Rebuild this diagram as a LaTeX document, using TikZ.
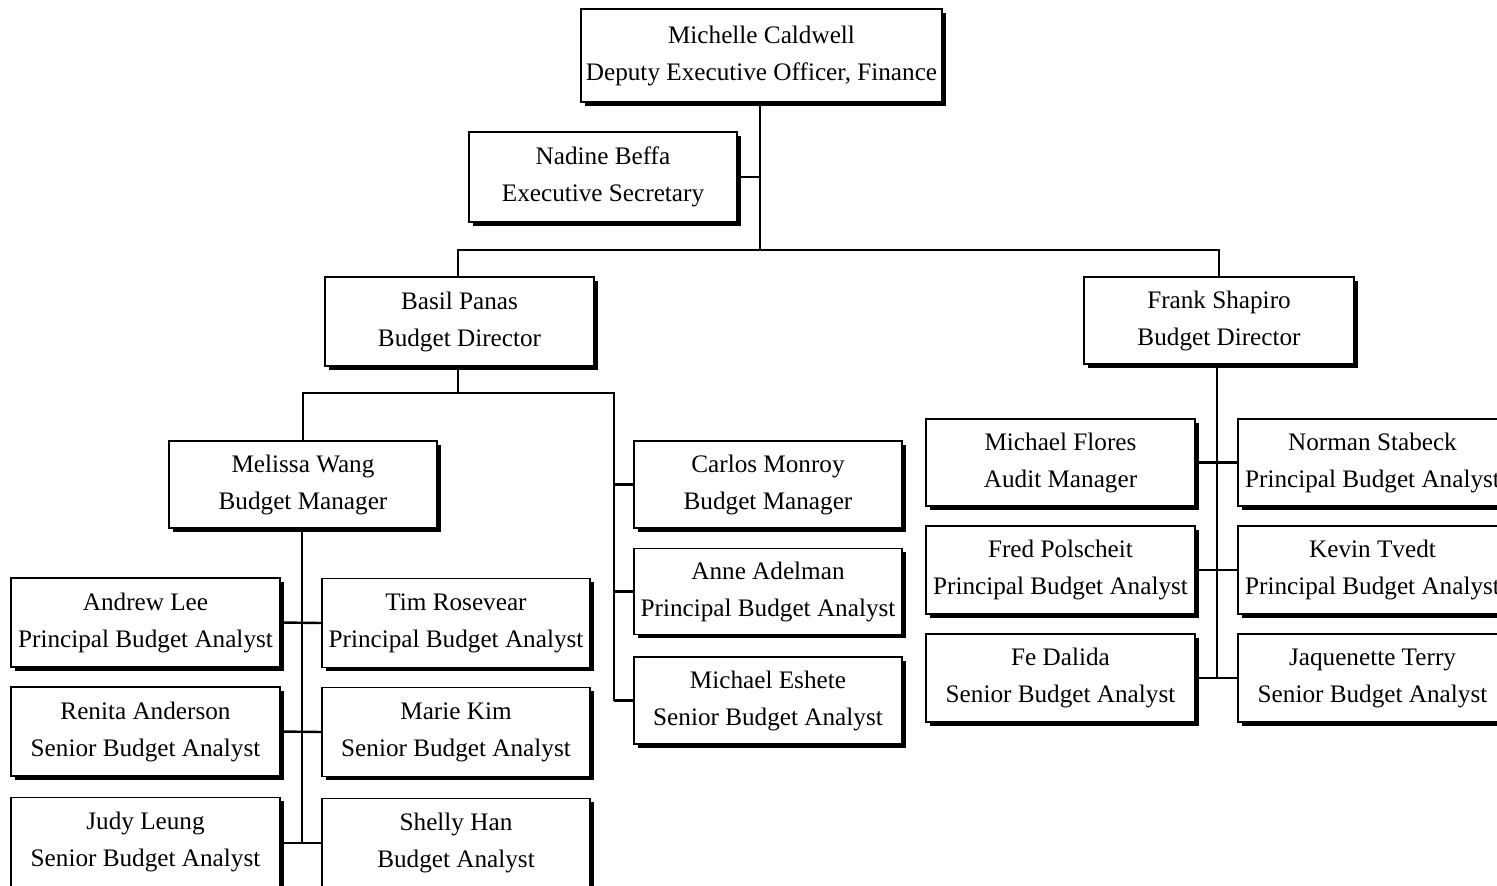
\documentclass[tikz,border=0pt]{standalone}
\usepackage{fontspec}
\setmainfont{Liberation Serif}
\usetikzlibrary{shadows}
\tikzset{
  box/.style={draw=black, line width=0.7pt, fill=white, align=center, inner sep=0pt,
    minimum width=134.5pt, minimum height=44.5pt,
    font=\fontsize{12.6}{18.5}\selectfont,
    execute at begin node={\rule{0pt}{10.8pt}},
    drop shadow={shadow xshift=1.8pt, shadow yshift=-1.8pt, fill=black, opacity=1}},
  conn/.style={draw=black, line width=1.2pt}
}
\begin{document}
\begin{tikzpicture}[x=0.5pt,y=-0.5pt]
\useasboundingbox (0,0) rectangle (1497,886);
% nodes
\node[box, minimum width=180.5pt, minimum height=46.5pt] (cald) at (761.5,55.5) {Michelle Caldwell\\Deputy Executive Officer, Finance};
\node[box, minimum width=134pt, minimum height=45pt] (nad) at (603,177) {Nadine Beffa\\Executive Secretary};
\node[box] (bas) at (459.5,321.5) {Basil Panas\\Budget Director};
\node[box, minimum width=135pt, minimum height=43.5pt] (frank) at (1219,320.5) {Frank Shapiro\\Budget Director};
\node[box, minimum width=134pt, minimum height=43.5pt] (mel) at (303,484.5) {Melissa Wang\\Budget Manager};
\node[box, minimum width=134pt, minimum height=43.5pt] (car) at (768,484.5) {Carlos Monroy\\Budget Manager};
\node[box, minimum width=134pt, minimum height=43pt] (ann) at (768,591.5) {Anne Adelman\\Principal Budget Analyst};
\node[box, minimum width=134pt, minimum height=43.5pt] (esh) at (768,700.5) {Michael Eshete\\Senior Budget Analyst};
\node[box] (and) at (145.5,622.5) {Andrew Lee\\Principal Budget Analyst};
\node[box, minimum width=134pt] (tim) at (456,623) {Tim Rosevear\\Principal Budget Analyst};
\node[box] (ren) at (145.5,731.5) {Renita Anderson\\Senior Budget Analyst};
\node[box, minimum width=134pt] (mar) at (456,732) {Marie Kim\\Senior Budget Analyst};
\node[box] (jud) at (145.5,842) {Judy Leung\\Senior Budget Analyst};
\node[box, minimum width=134pt] (she) at (456,843) {Shelly Han\\Budget Analyst};
\node[box, minimum height=43.5pt] (flo) at (1060.5,462.5) {Michael Flores\\Audit Manager};
\node[box, minimum height=44pt] (fre) at (1060.5,570) {Fred Polscheit\\Principal Budget Analyst};
\node[box, minimum height=44pt] (fed) at (1060.5,678) {Fe Dalida\\Senior Budget Analyst};
\node[box, minimum height=43.5pt] (nor) at (1372.5,462.5) {Norman Stabeck\\Principal Budget Analyst};
\node[box, minimum height=44pt] (kev) at (1372.5,570) {Kevin Tvedt\\Principal Budget Analyst};
\node[box, minimum height=44pt] (jaq) at (1372.5,678) {Jaquenette Terry\\Senior Budget Analyst};
% connectors
\coordinate (t1) at (760,250);
\draw[conn] (t1 |- cald.south) -- (t1);
\draw[conn] (nad.east) -- (nad.east -| t1);
\draw[conn] (bas.north -| 458,0) |- (t1) -| (frank.north);
\coordinate (t2) at (458,393);
\coordinate (r2) at (614,393);
\draw[conn] (t2 |- bas.south) -- (t2);
\draw[conn] (mel.north) |- (r2) -- (r2 |- esh.west);
\draw[conn] (car.west) -- (car.west -| r2);
\draw[conn] (ann.west) -- (ann.west -| r2);
\draw[conn] (esh.west) -- (esh.west -| r2);
\coordinate (v3) at (302,843);
\draw[conn] (v3 |- mel.south) -- (v3);
\draw[conn] (and.east) -- (tim.west);
\draw[conn] (ren.east) -- (mar.west);
\draw[conn] (jud.east |- v3) -- (she.west |- v3);
\coordinate (v4) at (1217,678);
\draw[conn] (v4 |- frank.south) -- (v4);
\draw[conn] (flo.east) -- (nor.west);
\draw[conn] (fre.east) -- (kev.west);
\draw[conn] (fed.east) -- (jaq.west);
\end{tikzpicture}
\end{document}
